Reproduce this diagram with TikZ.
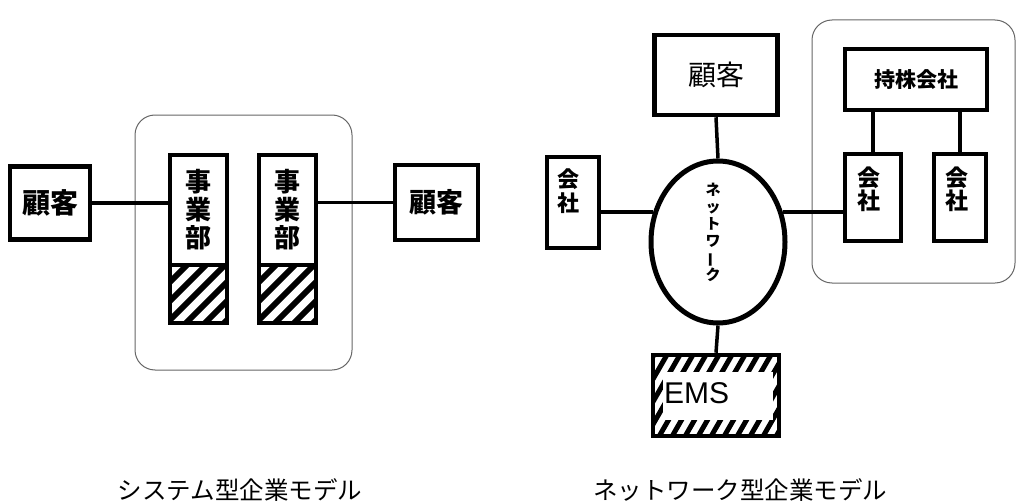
\documentclass[tikz,border=0pt]{standalone}
\usepackage{fontspec}
\newfontfamily\cjk{Noto Sans CJK JP}
\newfontfamily\ems{Liberation Sans}
\usetikzlibrary{shapes.geometric}
\tikzset{
  box/.style={draw, line width=4.5pt, inner sep=0pt, fill=none},
  frame/.style={draw=black!60, line width=1pt, rounded corners=20pt, inner sep=0pt},
  conn/.style={line width=3.5pt},
  hatchline/.style={line width=6pt},
  lbl/.style={inner sep=0pt, align=center, font=\cjk\bfseries},
}
\begin{document}
\begin{tikzpicture}[x=1pt,y=-1pt]
\useasboundingbox (0,0) rectangle (1018,503);
% ---------- left model ----------
\node[frame, minimum width=217pt, minimum height=255pt] (grpL) at (243.5,242.5) {};
% hatching of business units
\begin{scope}
  \clip (170,265) rectangle (227,323);
  \foreach \i in {0,19,...,133} \draw[hatchline] (105+\i,328) -- ++(70,-70);
\end{scope}
\begin{scope}
  \clip (259,265) rectangle (316,323);
  \foreach \i in {0,19,...,133} \draw[hatchline] (194+\i,328) -- ++(70,-70);
\end{scope}
\node[box, minimum width=80pt, minimum height=73pt, font=\cjk\bfseries\fontsize{28}{30}\selectfont] (c1) at (50,203) {顧客};
\node[box, minimum width=57pt, minimum height=168pt] (u1) at (198.5,239) {};
\node[box, minimum width=57pt, minimum height=168pt] (u2) at (287.5,239) {};
\draw[line width=4.5pt] (u1.west |- 0,265) -- (u1.east |- 0,265);
\draw[line width=4.5pt] (u2.west |- 0,265) -- (u2.east |- 0,265);
\node[lbl, font=\cjk\bfseries\fontsize{26}{28}\selectfont] (t1) at (198.5,210) {事\\業\\部};
\node[lbl, font=\cjk\bfseries\fontsize{26}{28}\selectfont] (t2) at (287.5,210) {事\\業\\部};
\node[box, minimum width=83pt, minimum height=75pt, font=\cjk\bfseries\fontsize{27}{30}\selectfont] (c2) at (436.5,202.5) {顧客};
\draw[conn] (c1.east) -- (c1.east -| u1.west);
\draw[conn] (u2.east |- c2.west) -- (c2.west);
\node[inner sep=0pt, font=\cjk\fontsize{24.5}{25}\selectfont] (cap1) at (240,490) {システム型企業モデル};
% ---------- right model ----------
\node[frame, minimum width=203pt, minimum height=263pt] (grpR) at (913.5,151.5) {};
\node[box, minimum width=123pt, minimum height=80pt, font=\cjk\fontsize{28}{30}\selectfont] (c3) at (716,75) {顧客};
\node[draw, ellipse, line width=5pt, inner sep=0pt, minimum width=134pt, minimum height=162pt] (net) at (718,242) {};
\node[lbl, font=\cjk\bfseries\fontsize{15}{17}\selectfont] (tn) at (713,232.5) {ネ\\ッ\\ト\\ワ\\\rotatebox[origin=c]{90}{ー}\\ク};
\node[box, minimum width=52pt, minimum height=91pt] (k1) at (573,202.5) {};
\node[lbl, font=\cjk\bfseries\fontsize{22}{24}\selectfont] (tk1) at (568,191) {会\\社};
% EMS hatched box
\begin{scope}
  \clip (653,355) rectangle (779,436);
  \foreach \i in {0,13,...,195} \draw[line width=5pt] (605+\i,440) -- ++(50,-87);
\end{scope}
\fill[white] (663,372) rectangle (773,420);
\node[box, minimum width=126pt, minimum height=81pt] (ems) at (716,395.5) {};
\node[inner sep=0pt, anchor=west, font=\ems\fontsize{30}{30}\selectfont] (tems) at (664,393) {EMS};
\node[box, minimum width=142pt, minimum height=61pt, font=\cjk\bfseries\fontsize{21}{22}\selectfont] (h) at (916,79.5) {持株会社};
\node[box, minimum width=56pt, minimum height=87pt] (k2) at (873,197.5) {};
\node[box, minimum width=52pt, minimum height=87pt] (k3) at (960,197.5) {};
\node[lbl, font=\cjk\bfseries\fontsize{23}{23}\selectfont] (tk2) at (869,189) {会\\社};
\node[lbl, font=\cjk\bfseries\fontsize{23}{23}\selectfont] (tk3) at (957,189) {会\\社};
\draw[conn] (c3.south) -- (net.north);
\draw[conn] (net.south) -- (ems.north);
\draw[conn] (net.155) -- (net.155 -| k1.east);
\draw[conn] (net.25) -- (net.25 -| k2.west);
\draw[conn] (k2.north) -- (k2.north |- h.south);
\draw[conn] (k3.north) -- (k3.north |- h.south);
\node[inner sep=0pt, font=\cjk\fontsize{24.5}{25}\selectfont] (cap2) at (740,490) {ネットワーク型企業モデル};
\end{tikzpicture}
\end{document}
